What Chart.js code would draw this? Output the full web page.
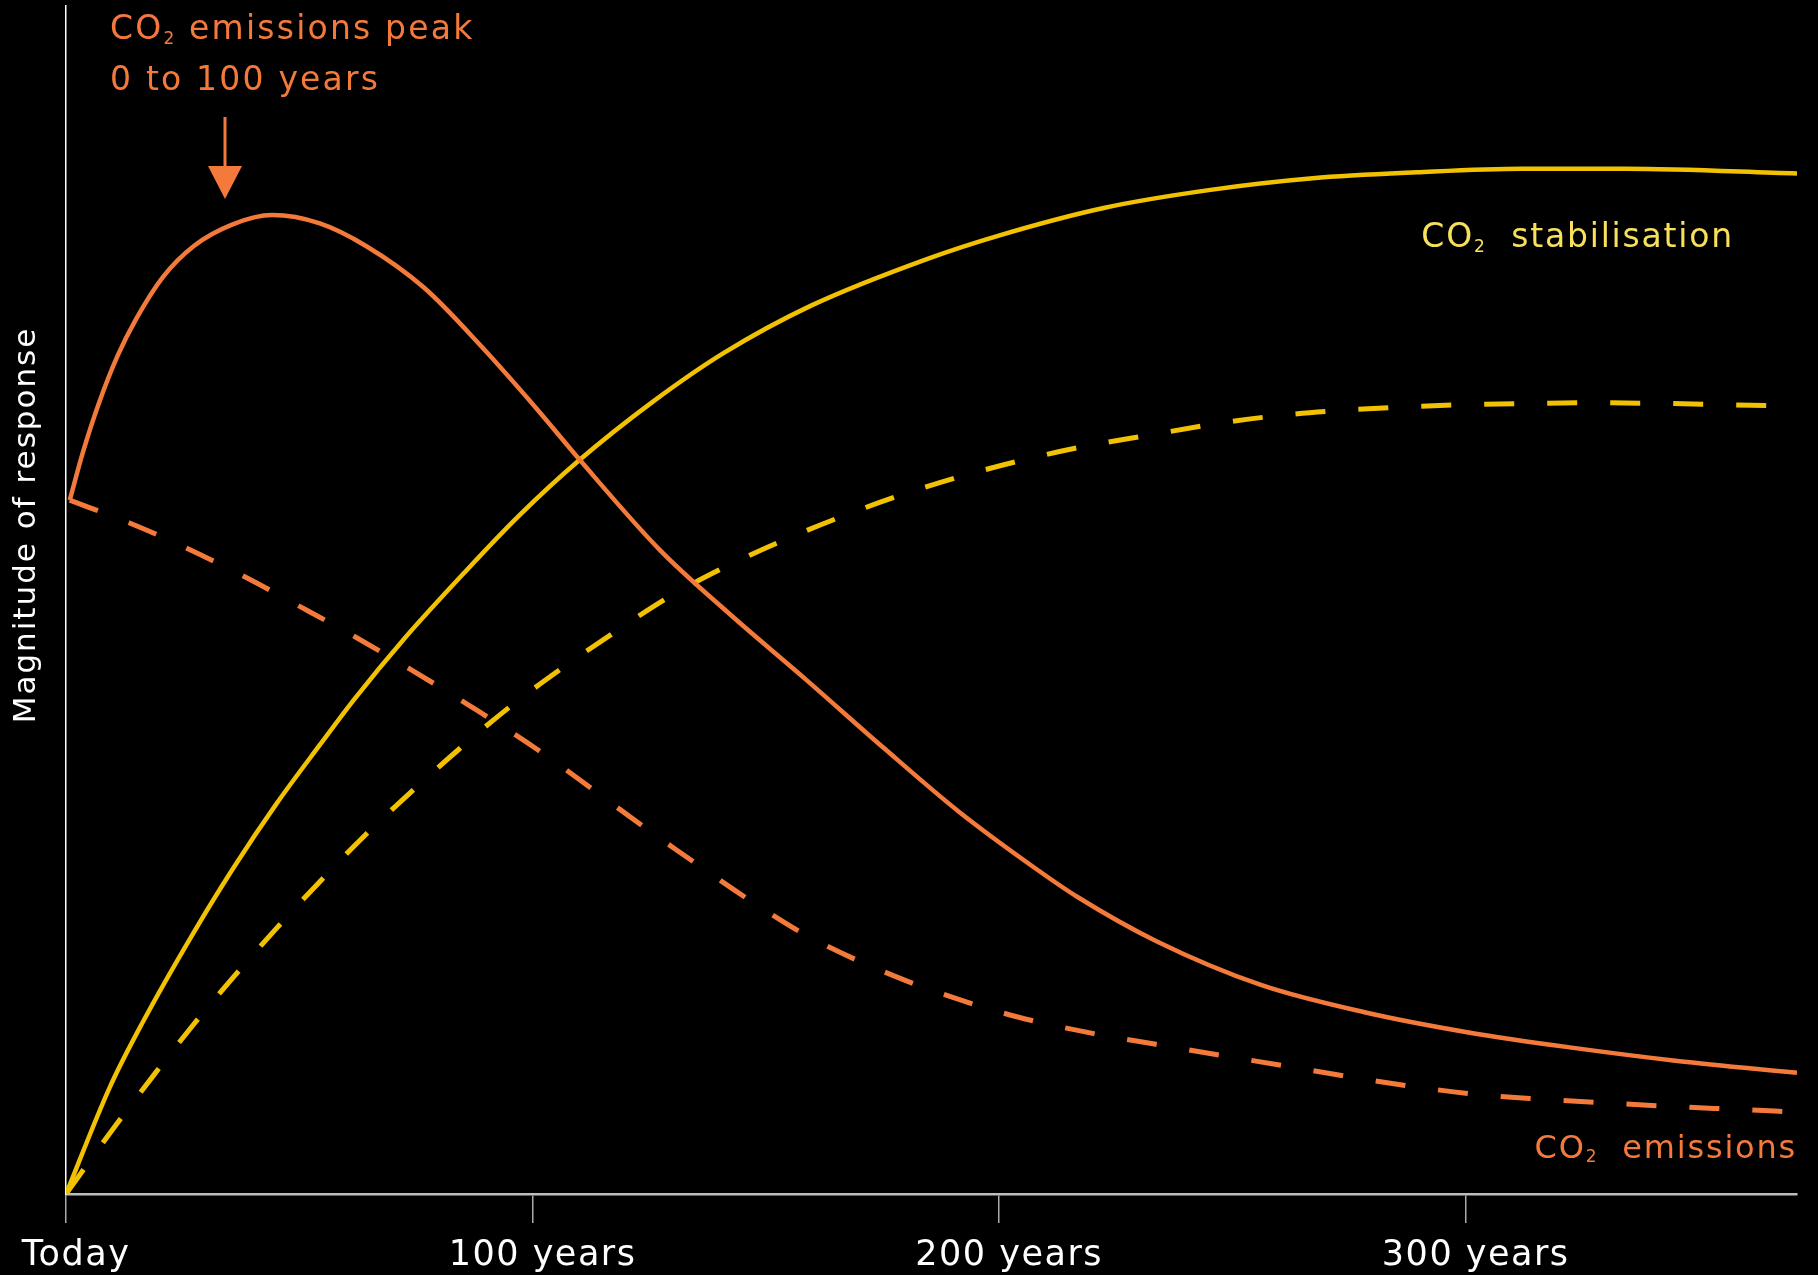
<!DOCTYPE html>
<html>
<head>
<meta charset="utf-8">
<title>CO2 response</title>
<script src="https://cdn.jsdelivr.net/npm/chart.js@4.4.0/dist/chart.umd.min.js"></script>
<style>
  html, body { margin: 0; padding: 0; background: #000; }
  canvas { display: block; }
</style>
</head>
<body>
<canvas id="response-chart" width="1818" height="1275"></canvas>
<script>
// Values: x = years from today, y = relative magnitude (0-100)
const tickYears = [0, 100, 200, 300];
const tickLabels = ["Today", "100 years", "200 years", "300 years"];

// orange solid (emissions peak)
const peakYears = [0.8, 3.6, 6.9, 11, 15.1, 20.8, 27.4, 35.6, 44.2, 54.4, 64.3, 76.7, 88.9, 101.1,
  110.1, 127.3, 142.3, 158.6, 175.1, 191.3, 207.8, 216.8, 233.6, 256.1, 278.3, 300.6, 323.1, 345.4, 371];
const peakValues = [58.4, 62.4, 66.4, 70.5, 73.7, 77.2, 79.8, 81.6, 82.4, 81.7, 79.8, 76.3, 71.4, 66.0,
  61.8, 54.2, 48.8, 43.3, 37.6, 32.2, 27.4, 25.0, 21.3, 17.6, 15.3, 13.6, 12.3, 11.2, 10.2];

// orange dashed (emissions)
const emissionsYears = [0.8, 13.5, 25.7, 38.1, 50.4, 62.4, 74.1, 85.7, 101.1, 124.9, 130.7, 147.4, 159,
  177.2, 192, 204, 220.3, 233.6, 247.1, 261, 274.5, 287.8, 301.9, 315.2, 328.7, 342.6, 356.5, 371];
const emissionsValues = [58.4, 56.5, 54.4, 52.0, 49.4, 46.8, 44.1, 41.3, 37.4, 30.6, 29.0, 24.5, 21.7,
  18.4, 16.3, 14.9, 13.5, 12.6, 11.7, 10.8, 9.9, 9.1, 8.4, 8.0, 7.7, 7.4, 7.15, 6.9];

// yellow solid (stabilisation)
const stabilYears = [0, 9.4, 16.5, 27.2, 35.8, 45.2, 54.4, 61.9, 72.4, 84.9, 97.1, 110.1, 125.8, 141,
  159.8, 184.5, 200.1, 222.4, 244.9, 267.2, 289.5, 312, 334.3, 371];
const stabilValues = [0, 9.0, 14.5, 21.9, 27.4, 32.9, 37.8, 41.7, 46.7, 52.1, 57.1, 61.8, 66.7, 70.8,
  74.8, 78.7, 80.7, 83.0, 84.5, 85.5, 86.0, 86.3, 86.3, 85.9];

// yellow dashed (stabilisation)
const stabilDashYears = [0, 9, 18.6, 27.2, 36.2, 45.2, 54.9, 64.1, 74.4, 84.4, 95.1, 106.1, 117.6,
  129, 141.4, 153.6, 166.1, 178.7, 191.8, 205.3, 217.9, 232.5, 246, 259.3, 272.8, 286.7, 300.6,
  314.1, 327.6, 341.5, 354.8, 371];
const stabilDashValues = [0, 4.9, 9.9, 14.2, 18.4, 22.4, 26.5, 30.2, 34.0, 37.5, 41.0, 44.2, 47.3,
  50.2, 52.8, 55.0, 57.0, 58.8, 60.4, 61.8, 62.9, 63.9, 64.8, 65.5, 65.95, 66.25, 66.45,
  66.55, 66.6, 66.55, 66.45, 66.3];

const ORANGE = "#F47A3B";
const YELLOW = "#F2C200";
const LABEL_YELLOW = "#F6E05C";
const FONT = '"DejaVu Sans", sans-serif';

const toPoints = (xs, ys) => xs.map((x, i) => ({ x: x, y: ys[i] }));

function lineSet(label, xs, ys, color, dashed) {
  return {
    label: label,
    data: toPoints(xs, ys),
    borderColor: color,
    borderWidth: dashed ? 5 : 4.5,
    borderDash: dashed ? [30, 33] : [],
    pointRadius: 0,
    cubicInterpolationMode: "monotone",
    fill: false,
  };
}

// draws "CO" + subscript 2 + rest of the text
function co2Text(ctx, rest, x, y, size, color, align) {
  const big = `${size}px ${FONT}`;
  const small = `${Math.round(size * 0.52)}px ${FONT}`;
  ctx.font = big;
  const wCO = ctx.measureText("CO").width;
  const wRest = ctx.measureText(rest).width;
  ctx.font = small;
  const w2 = ctx.measureText("2").width;
  const left = align === "right" ? x - (wCO + w2 + wRest) : x;
  ctx.fillStyle = color;
  ctx.textAlign = "left";
  ctx.textBaseline = "alphabetic";
  ctx.font = big;
  ctx.fillText("CO", left, y);
  ctx.font = small;
  ctx.fillText("2", left + wCO, y + size * 0.14);
  ctx.font = big;
  ctx.fillText(rest, left + wCO + w2, y);
}

const annotations = {
  id: "annotations",
  beforeDraw(chart) {
    // slightly wider tick labels, like the reference face
    chart.ctx.letterSpacing = "1.5px";
  },
  afterDraw(chart) {
    const ctx = chart.ctx;
    ctx.save();
    ctx.letterSpacing = "2.2px";
    co2Text(ctx, " emissions peak", 110, 39, 33, ORANGE, "left");
    ctx.font = `33px ${FONT}`;
    ctx.fillText("0 to 100 years", 110, 90);

    ctx.letterSpacing = "1.8px";
    co2Text(ctx, "  stabilisation", 1734, 247, 33, LABEL_YELLOW, "right");
    co2Text(ctx, "  emissions", 1797, 1158, 32, ORANGE, "right");

    // arrow pointing at the peak
    ctx.strokeStyle = ORANGE;
    ctx.lineWidth = 3;
    ctx.beginPath();
    ctx.moveTo(225, 117);
    ctx.lineTo(225, 172);
    ctx.stroke();
    ctx.fillStyle = ORANGE;
    ctx.beginPath();
    ctx.moveTo(208, 166);
    ctx.lineTo(242, 166);
    ctx.lineTo(225, 199);
    ctx.closePath();
    ctx.fill();

    // y axis title
    ctx.translate(27, 525);
    ctx.rotate(-Math.PI / 2);
    ctx.fillStyle = "#ffffff";
    ctx.font = `31px ${FONT}`;
    ctx.textAlign = "center";
    ctx.textBaseline = "middle";
    ctx.letterSpacing = "2px";
    ctx.fillText("Magnitude of response", 0, 0);
    ctx.restore();
  },
};

const chartCtx = document.getElementById("response-chart").getContext("2d");

const responseChart = new Chart(chartCtx, {
  type: "line",
  data: {
    datasets: [
      lineSet("Emissions peak", peakYears, peakValues, ORANGE, false),
      lineSet("Emissions", emissionsYears, emissionsValues, ORANGE, true),
      lineSet("Stabilisation", stabilYears, stabilValues, YELLOW, false),
      lineSet("Stabilisation (dashed)", stabilDashYears, stabilDashValues, YELLOW, true),
    ],
  },
  options: {
    responsive: false,
    animation: false,
    devicePixelRatio: 1,
    layout: { padding: { top: 6, right: 21, left: 0, bottom: 0 } },
    plugins: {
      legend: { display: false },
      tooltip: { enabled: false },
    },
    scales: {
      x: {
        type: "linear",
        min: 0,
        max: 371,
        afterFit: (scale) => { scale.height = 81; },
        afterBuildTicks: (scale) => {
          scale.ticks = tickYears.map((v) => ({ value: v }));
        },
        ticks: {
          color: "#ffffff",
          font: { family: FONT, size: 35 },
          padding: 12,
          labelOffset: 10,
          maxRotation: 0,
          callback: (value) => tickLabels[tickYears.indexOf(value)],
        },
        grid: {
          drawOnChartArea: false,
          drawTicks: true,
          tickLength: 29,
          color: "#aaaaaa",
          lineWidth: 1.5,
        },
        border: { display: true, color: "#bdbdbd", width: 2.5 },
      },
      y: {
        min: 0,
        max: 100,
        afterFit: (scale) => { scale.width = 66; },
        ticks: { display: false },
        grid: { display: false },
        border: { display: true, color: "#ffffff", width: 1.5 },
      },
    },
  },
  plugins: [annotations],
});
</script>
</body>
</html>
